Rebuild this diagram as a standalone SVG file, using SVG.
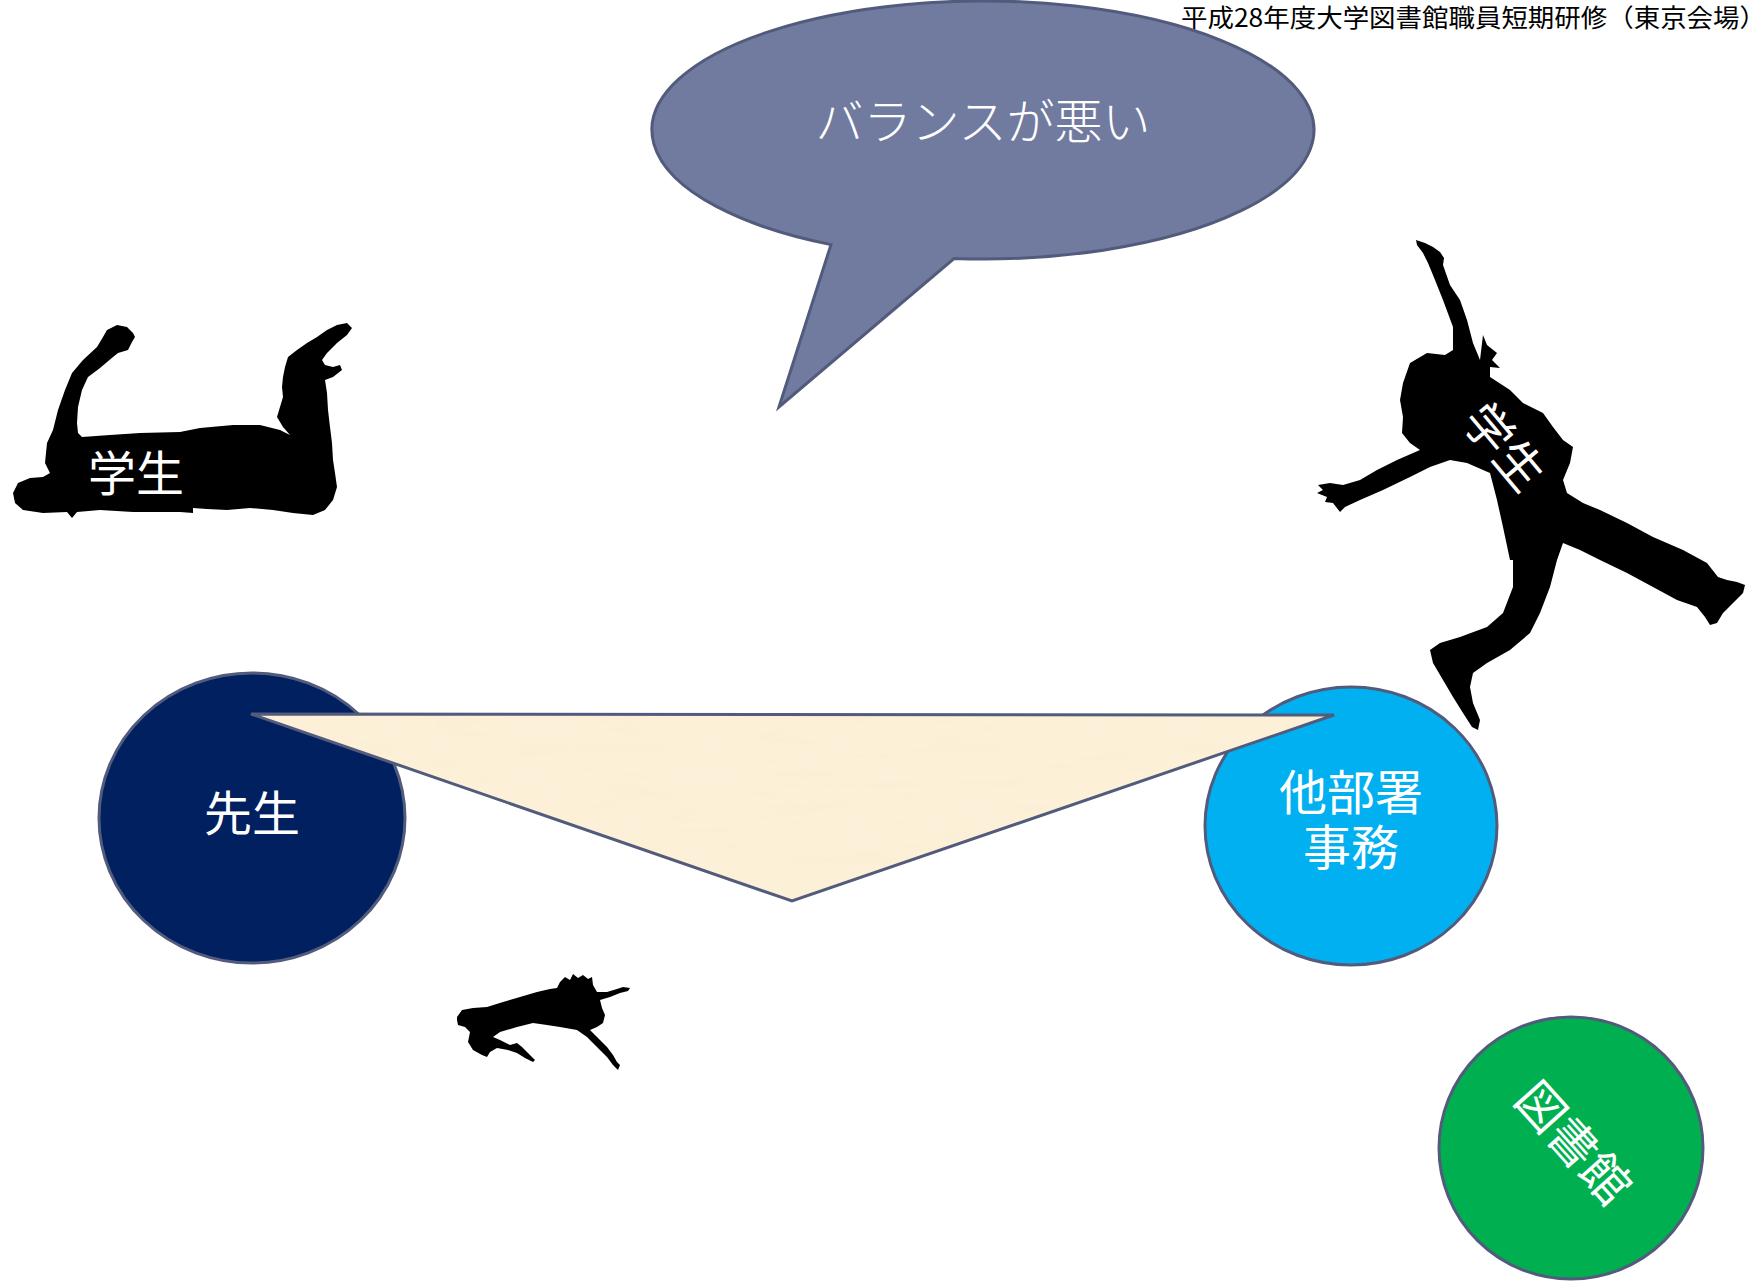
<svg xmlns="http://www.w3.org/2000/svg" width="1749" height="1281" viewBox="0 0 1749 1281">
  <style>
    .jp { font-family: "Noto Sans CJK JP", "Noto Sans", sans-serif; }
    .label { fill: #ffffff; font-size: 48px; text-anchor: middle; }
    .outline { stroke: #525b7b; stroke-width: 3; }
    .silhouette { fill: #000000; }
  </style>
  <defs>
    <!-- faint paper grain for the balance plate -->
    <filter id="grain" x="0" y="0" width="100%" height="100%">
      <feTurbulence type="fractalNoise" baseFrequency="0.012 0.09" numOctaves="3" seed="7"/>
      <feColorMatrix type="matrix" values="0 0 0 0 0.93  0 0 0 0 0.82  0 0 0 0 0.62  0 0 0 0.22 -0.06"/>
    </filter>
    <clipPath id="plate-clip">
      <path d="M 251 714 L 1334 715 L 792 901 Z"/>
    </clipPath>
  </defs>

  <rect x="0" y="0" width="1749" height="1281" fill="#ffffff"/>

  <!-- header caption -->
  <text class="jp" x="1181" y="27" font-size="25" fill="#000000" textLength="585" lengthAdjust="spacingAndGlyphs">平成28年度大学図書館職員短期研修（東京会場）</text>

  <!-- speech bubble -->
  <g id="bubble">
    <path class="outline" fill="#717ba0" d="M 954 258.5 A 331 129 0 1 0 831 244.6 L 779 407 Z"/>
    <text class="jp label" x="983" y="139" font-weight="300">バランスが悪い</text>
  </g>

  <!-- student lying on the left -->
  <g id="student-left">
    <path class="silhouette" d="M 103 337 L 107 330 L 117 325 L 127 327 L 133 333 L 135 337 L 132 342 L 128 350 L 118 353
      L 113 357 L 100 368 L 88 377 L 82 390 L 78 407 L 77 423 L 78 433 L 82 437
      L 110 435 L 140 433 L 180 432 L 200 428 L 233 425 L 260 425 L 280 430 L 290 435
      L 283 427 L 277 417 L 280 407 L 283 397 L 282 387 L 283 377 L 285 367 L 288 357
      L 297 350 L 307 343 L 317 337 L 327 330 L 337 325 L 347 323 L 352 328 L 347 335
      L 337 343 L 327 353 L 322 360 L 325 365 L 333 367 L 340 365 L 342 370 L 333 377
      L 325 380 L 327 393 L 328 410 L 330 427 L 332 443 L 333 460 L 335 473 L 337 487
      L 333 500 L 325 510 L 313 515 L 293 513 L 273 510 L 250 508 L 227 510 L 207 509
      L 193 508 L 193 513 L 180 512 L 133 512 L 100 510 L 77 512 L 72 518 L 67 512
      L 43 513 L 23 510 L 15 503 L 13 493 L 18 483 L 30 478 L 43 477 L 50 473
      L 45 463 L 47 443 L 53 430 L 58 410 L 65 390 L 72 373 L 83 360 L 97 347 Z"/>
    <text class="jp label" x="136" y="491" font-size="46">学生</text>
  </g>

  <!-- student jumping on the right -->
  <g id="student-right">
    <path class="silhouette" d="M 1416 240 L 1425 243 L 1433 247 L 1440 252 L 1444 258 L 1443 265 L 1450 285
      L 1460 300 L 1467 320 L 1473 343 L 1480 360 L 1483 335 L 1487 345 L 1497 353
      L 1492 360 L 1500 368 L 1490 367 L 1490 377 L 1510 390 L 1523 403 L 1543 413
      L 1553 427 L 1563 440 L 1573 447 L 1570 463 L 1563 480 L 1567 493 L 1583 503 L 1600 510
      L 1627 523 L 1653 537 L 1683 550 L 1707 563 L 1718 577 L 1727 580 L 1737 582 L 1745 585
      L 1743 593 L 1733 603 L 1723 613 L 1717 623 L 1710 625 L 1705 617 L 1697 607 L 1677 600
      L 1653 587 L 1627 573 L 1600 560 L 1580 550 L 1563 543 L 1557 560 L 1550 587 L 1540 613
      L 1530 633 L 1510 650 L 1487 663 L 1473 673 L 1470 687 L 1473 703 L 1480 720 L 1478 730
      L 1472 727 L 1463 713 L 1453 697 L 1443 680 L 1433 663 L 1430 650 L 1440 643 L 1460 637
      L 1487 627 L 1503 613 L 1513 587 L 1513 560 L 1510 560 L 1503 527 L 1497 500 L 1490 473
      L 1467 463 L 1450 460 L 1430 467 L 1410 477 L 1383 490 L 1360 500 L 1345 507 L 1340 512
      L 1333 503 L 1325 502 L 1327 497 L 1317 493 L 1323 490 L 1318 485 L 1330 483 L 1343 485
      L 1360 480 L 1377 470 L 1397 460 L 1420 450 L 1410 443 L 1402 433 L 1403 417 L 1400 400
      L 1403 383 L 1410 363 L 1427 353 L 1445 355 L 1453 350 L 1453 327 L 1443 300 L 1435 280
      L 1428 263 L 1423 253 L 1417 245 Z"/>
    <text class="jp label" font-size="46" transform="translate(1503 448) rotate(50)" dy="16">学生</text>
  </g>

  <!-- small falling figure -->
  <g id="falling-figure">
    <path class="silhouette" d="M 457 1017 L 462 1010 L 473 1008 L 487 1007 L 503 1002 L 520 997 L 537 992
      L 550 989 L 557 988 L 560 982 L 565 977 L 570 980 L 573 974 L 578 978 L 583 975 L 588 979
      L 592 977 L 593 985 L 597 992 L 607 992 L 617 989 L 623 987 L 630 988 L 628 991 L 620 993
      L 610 997 L 600 1000 L 602 1008 L 605 1015 L 603 1023 L 597 1027 L 590 1030 L 597 1037
      L 607 1047 L 613 1055 L 617 1062 L 620 1065 L 618 1070 L 613 1065 L 607 1057 L 597 1047
      L 587 1037 L 577 1030 L 560 1027 L 547 1025 L 533 1023 L 517 1027 L 500 1032 L 493 1037
      L 500 1040 L 510 1045 L 517 1043 L 522 1047 L 528 1053 L 535 1060 L 533 1062 L 525 1058
      L 517 1053 L 508 1050 L 497 1048 L 490 1052 L 487 1057 L 482 1055 L 473 1050 L 468 1042
      L 470 1032 L 465 1027 L 458 1025 L 457 1020 Z"/>
  </g>

  <!-- 先生 -->
  <g id="sensei">
    <ellipse class="outline" cx="252" cy="818" rx="153" ry="145" fill="#002060"/>
    <text class="jp label" x="252" y="831">先生</text>
  </g>

  <!-- 他部署事務 -->
  <g id="other-dept">
    <ellipse class="outline" cx="1351" cy="826" rx="146" ry="139" fill="#00b0f0"/>
    <text class="jp label" x="1351" y="810">他部署<tspan x="1351" dy="55">事務</tspan></text>
  </g>

  <!-- 図書館 -->
  <g id="library">
    <ellipse class="outline" cx="1571" cy="1148" rx="132" ry="131" fill="#00b050"/>
    <text class="jp label" transform="translate(1573 1143) rotate(48)" dy="17">図書館</text>
  </g>

  <!-- tilted balance plate -->
  <g id="balance">
    <path fill="#fcf0d8" d="M 251 714 L 1334 715 L 792 901 Z"/>
    <rect x="251" y="714" width="1083" height="187" filter="url(#grain)" clip-path="url(#plate-clip)"/>
    <path class="outline" fill="none" d="M 251 714 L 1334 715 L 792 901 Z"/>
  </g>
</svg>
